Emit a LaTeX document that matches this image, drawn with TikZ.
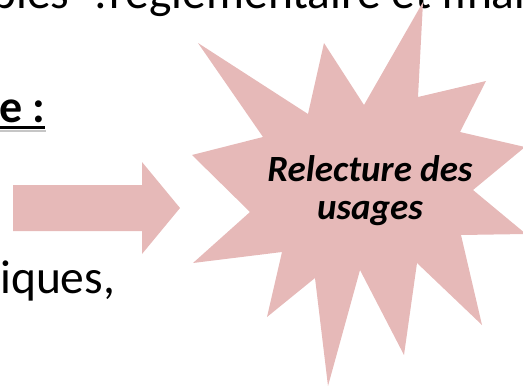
\documentclass[tikz,border=0pt]{standalone}
\usepackage{fontspec}
\setmainfont{Carlito}
\definecolor{pinkfill}{HTML}{E6B9B8}
\tikzset{
  shapefill/.style={fill=pinkfill, draw=none},
  bodytext/.style={inner sep=0pt, anchor=base west, font=\fontsize{47.5}{56}\selectfont},
  startext/.style={inner sep=0pt, align=center, font=\fontsize{37}{38}\selectfont\bfseries\itshape}
}
\begin{document}
\begin{tikzpicture}[x=1pt,y=-1pt]
\useasboundingbox (0,0) rectangle (523,386);
\clip (0,0) rectangle (523,386);
% top line, partially cut
\node[bodytext] (topline) at (-9,8) {bles\hspace{25pt}:\hspace{3pt}réglementaire et financier};
% bold underlined heading end
\node[bodytext, font=\fontsize{46}{54}\selectfont\bfseries] (head) at (-1,122) {e :};
\draw[gray!45, line width=2pt] (0,130.5) -- (46,130.5);
\draw[black, line width=2.2pt] (0,127.5) -- (45,127.5);
% block arrow
\path[shapefill] (13,185) -- (142,185) -- (142,162) -- (180,208) -- (142,254)
  -- (142,231) -- (13,231) -- cycle;
% text under arrow
\node[bodytext] (iques) at (0,293) {iques,};
% starburst
\path[shapefill] (423,2) -- (418,97) -- (486,81) -- (460,132) -- (525,147)
  -- (473,190) -- (526,234) -- (461,235) -- (482,325) -- (417,263)
  -- (404,355) -- (360,270) -- (328,386) -- (315,278) -- (267,317)
  -- (282,252) -- (193,263) -- (250,212) -- (192,155) -- (263,137)
  -- (198,43) -- (308,114) -- (324,43) -- (364,105) -- cycle;
\node[startext] (star) at (370,191) {Relecture des\\usages};
\end{tikzpicture}
\end{document}
